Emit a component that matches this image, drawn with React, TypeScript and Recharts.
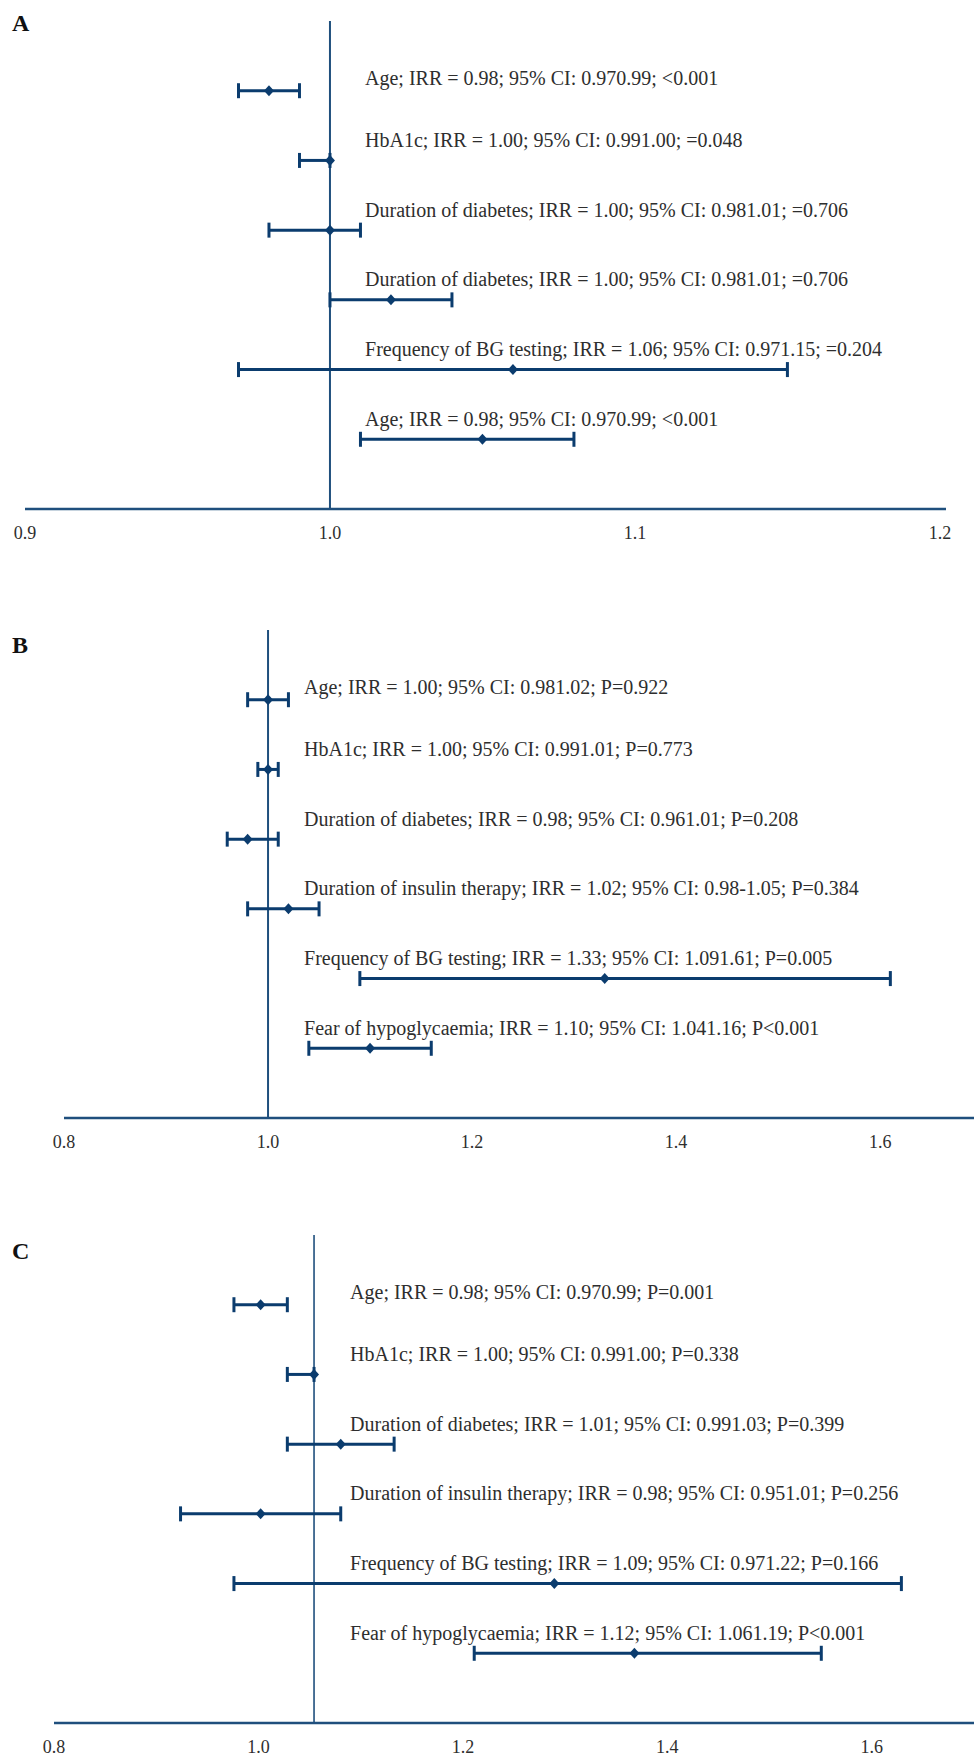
import React from "react";
import { ScatterChart, Scatter, XAxis, YAxis, ErrorBar, ReferenceLine } from "recharts";

const NAVY = "#0b3c6e";
const AXIS = "#1f4f7d";
const TEXT = "#2e2e2e";
const FONT = '"Liberation Serif", "Times New Roman", serif';

// Panel A
const labelsA = [
  "Age; IRR = 0.98; 95% CI: 0.970.99; <0.001",
  "HbA1c; IRR = 1.00; 95% CI: 0.991.00; =0.048",
  "Duration of diabetes; IRR = 1.00; 95% CI: 0.981.01; =0.706",
  "Duration of diabetes; IRR = 1.00; 95% CI: 0.981.01; =0.706",
  "Frequency of BG testing; IRR = 1.06; 95% CI: 0.971.15; =0.204",
  "Age; IRR = 0.98; 95% CI: 0.970.99; <0.001",
];
const irrA = [0.98, 1.0, 1.0, 1.02, 1.06, 1.05];
const lowA = [0.97, 0.99, 0.98, 1.0, 0.97, 1.01];
const highA = [0.99, 1.0, 1.01, 1.04, 1.15, 1.08];
const ticksA = [0.9, 1.0, 1.1, 1.2];

// Panel B
const labelsB = [
  "Age; IRR = 1.00; 95% CI: 0.981.02; P=0.922",
  "HbA1c; IRR = 1.00; 95% CI: 0.991.01; P=0.773",
  "Duration of diabetes; IRR = 0.98; 95% CI: 0.961.01; P=0.208",
  "Duration of insulin therapy; IRR = 1.02; 95% CI: 0.98-1.05; P=0.384",
  "Frequency of BG testing; IRR = 1.33; 95% CI: 1.091.61; P=0.005",
  "Fear of hypoglycaemia; IRR = 1.10; 95% CI: 1.041.16; P<0.001",
];
const irrB = [1.0, 1.0, 0.98, 1.02, 1.33, 1.1];
const lowB = [0.98, 0.99, 0.96, 0.98, 1.09, 1.04];
const highB = [1.02, 1.01, 1.01, 1.05, 1.61, 1.16];
const ticksB = [0.8, 1.0, 1.2, 1.4, 1.6];

// Panel C
const labelsC = [
  "Age; IRR = 0.98; 95% CI: 0.970.99; P=0.001",
  "HbA1c; IRR = 1.00; 95% CI: 0.991.00; P=0.338",
  "Duration of diabetes; IRR = 1.01; 95% CI: 0.991.03; P=0.399",
  "Duration of insulin therapy; IRR = 0.98; 95% CI: 0.951.01; P=0.256",
  "Frequency of BG testing; IRR = 1.09; 95% CI: 0.971.22; P=0.166",
  "Fear of hypoglycaemia; IRR = 1.12; 95% CI: 1.061.19; P<0.001",
];
const irrC = [0.98, 1.0, 1.01, 0.98, 1.09, 1.12];
const lowC = [0.97, 0.99, 0.99, 0.95, 0.97, 1.06];
const highC = [0.99, 1.0, 1.03, 1.01, 1.22, 1.19];
const ticksC = [0.8, 1.0, 1.2, 1.4, 1.6];

const buildRows = (labels: string[], irr: number[], low: number[], high: number[]) =>
  labels.map((label, i) => ({
    label,
    y: i + 1,
    x: irr[i],
    err: [irr[i] - low[i], high[i] - irr[i]],
  }));

const Diamond = (props: any) => {
  const { cx, cy } = props;
  return (
    <polygon
      points={`${cx},${cy - 5.5} ${cx + 5},${cy} ${cx},${cy + 5.5} ${cx - 5},${cy}`}
      fill={NAVY}
    />
  );
};

// first row sits a little closer to its bar than the others in the original
const RowLabel = (props: any) => (
  <text
    x={props.cx}
    y={props.cy - (props.payload.y === 1 ? 5.5 : 13.5)}
    fontSize={20}
    fontFamily={FONT}
    fill={TEXT}
  >
    {props.payload.label}
  </text>
);

type PanelProps = {
  letter: string;
  letterTop: number;
  top: number;
  rows: ReturnType<typeof buildRows>;
  ticks: number[];
  tickDomain: [number, number];
  dataDomain: [number, number];
  labelX: number;
  left: number;
  right: number;
  refWidth?: number;
};

function ForestPanel({ letter, letterTop, top, rows, ticks, tickDomain, dataDomain, labelX, left, right, refWidth = 2 }: PanelProps) {
  const labelRows = rows.map((r) => ({ x: labelX, y: r.y, label: r.label }));
  return (
    <div style={{ position: "absolute", left: 0, top, width: 975, height: 560 }}>
      <span
        style={{
          position: "absolute",
          left: 12,
          top: letterTop,
          fontFamily: FONT,
          fontWeight: 700,
          fontSize: 24,
          lineHeight: 1,
          color: "#111",
        }}
      >
        {letter}
      </span>
      <ScatterChart width={975} height={560} margin={{ top: 21, right, bottom: 20, left }}>
        <XAxis
          xAxisId="ticks"
          type="number"
          dataKey="x"
          domain={tickDomain}
          ticks={ticks}
          interval={0}
          allowDataOverflow
          tickFormatter={(v: number) => v.toFixed(1)}
          axisLine={{ stroke: AXIS, strokeWidth: 2.5 }}
          tickLine={false}
          tickSize={0}
          tickMargin={17}
          height={31}
          tick={{ fontSize: 18, fontFamily: FONT, fill: TEXT }}
        />
        <XAxis
          xAxisId="data"
          type="number"
          dataKey="x"
          orientation="top"
          height={0}
          domain={dataDomain}
          allowDataOverflow
          hide
        />
        <YAxis type="number" dataKey="y" domain={[0, 7]} reversed allowDataOverflow hide />
        <ReferenceLine xAxisId="data" x={1} stroke={AXIS} strokeWidth={refWidth} />
        <Scatter xAxisId="data" data={rows} shape={<Diamond />} isAnimationActive={false}>
          <ErrorBar dataKey="err" direction="x" width={7.5} stroke={NAVY} strokeWidth={3} />
        </Scatter>
        <Scatter xAxisId="data" data={labelRows} shape={<RowLabel />} isAnimationActive={false} />
      </ScatterChart>
    </div>
  );
}

export default function App() {
  return (
    <div style={{ position: "relative", width: 975, height: 1758, background: "#fff", overflow: "hidden" }}>
      <style>{"body{margin:0}"}</style>
      <ForestPanel
        letter="A"
        letterTop={11}
        top={0}
        rows={buildRows(labelsA, irrA, lowA, highA)}
        ticks={ticksA}
        tickDomain={[0.9, 1.202]}
        dataDomain={[0.9, 1.202]}
        labelX={1.0115}
        left={25}
        right={29}
      />
      <ForestPanel
        letter="B"
        letterTop={24}
        top={609}
        rows={buildRows(labelsB, irrB, lowB, highB)}
        ticks={ticksB}
        tickDomain={[0.8, 1.692]}
        dataDomain={[0.8, 1.692]}
        labelX={1.0353}
        left={64}
        right={1}
      />
      <ForestPanel
        letter="C"
        letterTop={25}
        top={1214}
        rows={buildRows(labelsC, irrC, lowC, highC)}
        ticks={ticksC}
        tickDomain={[0.8, 1.7]}
        dataDomain={[0.9026, 1.2472]}
        labelX={1.0135}
        left={54}
        right={1}
        refWidth={1.6}
      />
    </div>
  );
}
